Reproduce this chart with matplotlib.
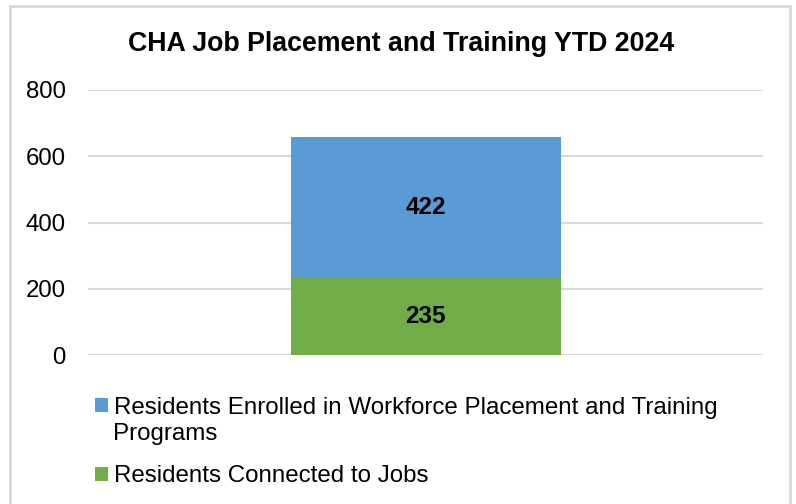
import matplotlib.pyplot as plt
from matplotlib.patches import Rectangle

plt.rcParams['font.family'] = ['Liberation Sans', 'DejaVu Sans']

categories = ['YTD 2024']
connected = [235]
enrolled = [422]
series_names = ['Residents Enrolled in Workforce Placement and Training',
                'Residents Connected to Jobs']
wrap_line = 'Programs'
yticks = [0, 200, 400, 600, 800]

fig = plt.figure(figsize=(7.96, 5.04), dpi=100)
W, H = 796, 504
ax = fig.add_axes([88 / W, 1 - 355 / H, (763 - 88) / W, (355 - 90) / H])

b1 = ax.bar(categories, connected, width=0.4, color='#70AD47', zorder=3)
b2 = ax.bar(categories, enrolled, bottom=connected, width=0.4, color='#5B9BD5', zorder=3)

for bars in (b1, b2):
    ax.bar_label(bars, label_type='center', fontsize=17.5, fontweight='bold')

ax.set_xlim(-0.5, 0.5)
ax.set_ylim(0, 800)
ax.set_yticks(yticks)
ax.set_xticks([])
ax.grid(axis='y', color='#d9d9d9', linewidth=1.5, zorder=0)
for s in ax.spines.values():
    s.set_visible(False)
ax.tick_params(axis='y', length=0, labelsize=17.3, pad=16)

fig.text(401 / W, 1 - 44 / H, 'CHA Job Placement and Training YTD 2024',
         ha='center', va='center', fontsize=19.3, fontweight='bold')

fig.legend([b2, b1], series_names, loc='center left',
           bbox_to_anchor=(95 / W, 1 - 442 / H), frameon=False,
           fontsize=17.4, handlelength=0.55, handleheight=0.55,
           handletextpad=0.22, labelspacing=1.94, borderpad=0,
           borderaxespad=0)
fig.text(113 / W, 1 - 434 / H, wrap_line, ha='left', va='center', fontsize=17.4)

fig.patches.append(Rectangle((9.5 / W, -0.1), (790 - 9.5) / W, 1.1 - 6 / H,
                             transform=fig.transFigure, fill=False,
                             edgecolor='#d9d9d9', linewidth=2))

fig.savefig('out.png', dpi=100)
